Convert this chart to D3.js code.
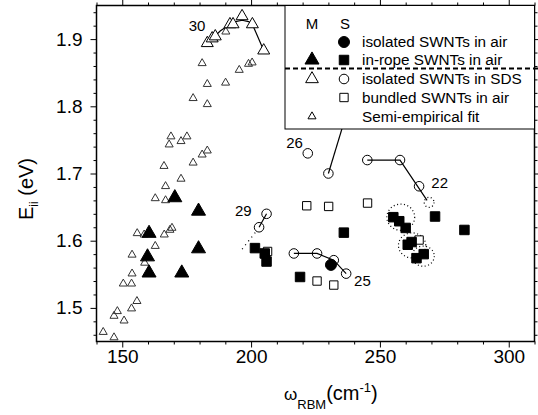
<!DOCTYPE html>
<html>
<head>
<meta charset="utf-8" />
<script src="https://d3js.org/d3.v7.min.js"></script>
<style>
body { margin: 0; background: #fff; }
svg text { font-family: "Liberation Sans", Arial, sans-serif; fill: #000; }
</style>
</head>
<body>
<svg id="chart" width="538" height="415"></svg>
<script>
// values: [omega_RBM (cm-1), E_ii (eV)]
var fitPts = [
    [142.6,1.464],[146.8,1.456],[146.8,1.488],[148.1,1.495],[150.7,1.481],[153.6,1.499],
    [155.7,1.510],[150.4,1.536],[153.6,1.536],[153.8,1.551],[153.8,1.579],[158.7,1.567],
    [155.8,1.611],[158.5,1.609],[162.8,1.592],[166.3,1.609],[168.5,1.616],[169.3,1.619],
    [162.8,1.663],[166.8,1.660],[166.8,1.681],[166.2,1.711],[172.8,1.692],[177.5,1.716],
    [181.0,1.728],[183.0,1.734],[168.2,1.743],[168.9,1.755],[172.8,1.748],[175.1,1.755],
    [177.5,1.812],[183.0,1.803],[183.0,1.833],[181.0,1.864],[190.1,1.835],[195.4,1.854],
    [199.0,1.863],[200.4,1.865],[190.2,1.911]
];
var sdsM = [[183.0,1.894],[184.9,1.901],[186.1,1.904],[191.8,1.922],[193.0,1.922],
    [196.5,1.934],[200.5,1.922],[204.9,1.883]];
var ropeM = [[160.4,1.611],[159.8,1.576],[160.4,1.552],[173.1,1.552],[179.6,1.644],
    [179.6,1.588],[170.4,1.664]];
var airS = [[231.0,1.564]];
var sdsS = [[222.0,1.730],[230.0,1.700],[245.1,1.720],[257.8,1.720],[265.2,1.681],
    [206.0,1.640],[203.1,1.620],[216.6,1.581],[225.6,1.581],[232.1,1.571],[236.9,1.551]];
var bundleS = [[221.6,1.652],[230.1,1.651],[245.2,1.656],[265.2,1.601],[206.4,1.584],
    [225.6,1.540],[232.1,1.534]];
var ropeS = [[201.5,1.589],[205.3,1.581],[206.0,1.569],[219.0,1.546],[236.0,1.612],
    [255.2,1.635],[257.5,1.629],[260.0,1.619],[260.8,1.594],[262.3,1.598],[264.2,1.574],
    [267.0,1.580],[271.4,1.636],[282.8,1.616]];

// family lines
var line30 = [[184.5,1.899],[188,1.912],[191,1.920],[194,1.926],[196.5,1.928],[199,1.926],[200.5,1.922],[204.9,1.883]];
var line26 = [[230.0,1.700],[238.7,1.810]];
var line22 = [[245.1,1.720],[257.8,1.720],[268.3,1.660]];
var line25 = [[216.6,1.581],[225.6,1.581],[232.1,1.571],[236.9,1.551]];
var line29 = [[203.1,1.620],[206.0,1.640]];
var dot29 = [[201.6,1.612],[195.6,1.583]];
// dotted rings: [cx, cy, rx, ry]
var rings = [[258.1,1.635,5.4,0.0195],[262.5,1.593,5.3,0.0187],[266.8,1.577,4.3,0.015],[269.1,1.657,1.9,0.0075]];
var famLabels = ["30","26","29","22","25"];
var famPos = [[179.0,1.9195],[216.9,1.746],[197.0,1.645],[273.2,1.686],[243.2,1.541]];

var xMajor = [150,200,250,300];
var xMinor = d3.range(140,311,10).filter(function(d){ return xMajor.indexOf(d) < 0; });
var yMajor = [1.5,1.6,1.7,1.8,1.9];
var yMinor = [1.46,1.48,1.52,1.54,1.56,1.58,1.62,1.64,1.66,1.68,1.72,1.74,1.76,1.78,1.82,1.84,1.86,1.88,1.92,1.94];

var L = 96.5, R = 534.5, T = 5.5, B = 341.5;
var x = d3.scaleLinear().domain([140,310]).range([L,R]);
var y = d3.scaleLinear().domain([1.45,1.95]).range([B,T]);

var svg = d3.select("#chart");

function axis(gen, tr, vals, size, fmt, pad) {
    var g = svg.append("g")
        .attr("transform", tr)
        .call(gen.tickValues(vals).tickSize(size).tickSizeOuter(0).tickPadding(pad).tickFormat(fmt));
    g.select(".domain").remove();
    g.selectAll("line").attr("stroke", "#000").attr("stroke-width", 1);
    g.selectAll("text").attr("font-size", 19).attr("font-family", "Liberation Sans, Arial, sans-serif").attr("fill", "#000");
    return g;
}
var noLab = function(){ return ""; };
axis(d3.axisBottom(x), "translate(0," + B + ")", xMajor, 6, d3.format("d"), 2);
axis(d3.axisBottom(x), "translate(0," + B + ")", xMinor, 3, noLab, 2);
axis(d3.axisTop(x), "translate(0," + T + ")", xMajor, 6, noLab, 2);
axis(d3.axisTop(x), "translate(0," + T + ")", xMinor, 3, noLab, 2);
axis(d3.axisLeft(y), "translate(" + L + ",0)", yMajor, 6, d3.format(".1f"), 8);
axis(d3.axisLeft(y), "translate(" + L + ",0)", yMinor, 3, noLab, 8);
axis(d3.axisRight(y), "translate(" + R + ",0)", yMajor, 6, noLab, 2);
axis(d3.axisRight(y), "translate(" + R + ",0)", yMinor, 3, noLab, 2);

svg.append("rect")
    .attr("x", L).attr("y", T).attr("width", R - L).attr("height", B - T)
    .attr("fill", "none").attr("stroke", "#000").attr("stroke-width", 1.5);

var line = d3.line().x(function(d){ return x(d[0]); }).y(function(d){ return y(d[1]); });

function sym(type, size) { return d3.symbol().type(type).size(size)(); }

function points(data, type, size, filled, stroke) {
    svg.append("g").selectAll("path")
        .data(data).enter().append("path")
        .attr("transform", function(d){ return "translate(" + x(d[0]) + "," + y(d[1]) + ")"; })
        .attr("d", sym(type, size))
        .attr("fill", filled ? "#000" : "#fff")
        .attr("stroke", stroke || "#000")
        .attr("stroke-width", 1);
}

// small fit triangles
svg.append("g").selectAll("path")
    .data(fitPts).enter().append("path")
    .attr("transform", function(d){ return "translate(" + x(d[0]) + "," + y(d[1]) + ")"; })
    .attr("d", sym(d3.symbolTriangle, 28))
    .attr("fill", "none").attr("stroke", "#333").attr("stroke-width", 1);

// dotted rings
svg.append("g").selectAll("ellipse")
    .data(rings).enter().append("ellipse")
    .attr("cx", function(d){ return x(d[0]); })
    .attr("cy", function(d){ return y(d[1]); })
    .attr("rx", function(d){ return x(d[0] + d[2]) - x(d[0]); })
    .attr("ry", function(d){ return y(d[1] - d[3]) - y(d[1]); })
    .attr("fill", "none").attr("stroke", "#000").attr("stroke-width", 1.2)
    .attr("stroke-dasharray", "1,2.5");

[line30, line26, line22, line25, line29].forEach(function(l) {
    svg.append("path").attr("d", line(l))
        .attr("fill", "none").attr("stroke", "#000").attr("stroke-width", 1.2);
});
svg.append("path").attr("d", line(dot29))
    .attr("fill", "none").attr("stroke", "#000").attr("stroke-width", 1.3)
    .attr("stroke-dasharray", "1,4");

points(bundleS, d3.symbolSquare, 70, false);
points(sdsM, d3.symbolTriangle, 62, false);
points(ropeM, d3.symbolTriangle, 85, true);
points(ropeS, d3.symbolSquare, 90, true);
svg.append("g").selectAll("path")
    .data(sdsS).enter().append("path")
    .attr("transform", function(d){ return "translate(" + x(d[0]) + "," + y(d[1]) + ")"; })
    .attr("d", sym(d3.symbolCircle, 72))
    .attr("fill", "none").attr("stroke", "#000").attr("stroke-width", 1);
points(airS, d3.symbolCircle, 95, true);

// family numbers
svg.append("g").selectAll("text")
    .data(famLabels).enter().append("text")
    .attr("x", function(d, i){ return x(famPos[i][0]); })
    .attr("y", function(d, i){ return y(famPos[i][1]); })
    .attr("dy", "0.35em")
    .attr("text-anchor", "middle")
    .attr("font-size", 15)
    .text(function(d){ return d; });

// legend
var lg = svg.append("g");
lg.append("rect").attr("x", 285).attr("y", T).attr("width", R - 285).attr("height", 129 - T)
    .attr("fill", "#fff").attr("stroke", "#000").attr("stroke-width", 1);
lg.append("line").attr("x1", 285).attr("x2", 538).attr("y1", 68.5).attr("y2", 68.5)
    .attr("stroke", "#000").attr("stroke-width", 2).attr("stroke-dasharray", "5,3");
var mX = 312, sX = 344, tX = 362;
lg.append("text").attr("x", mX).attr("y", 23.5).attr("dy", "0.35em").attr("text-anchor", "middle").attr("font-size", 15).text("M");
lg.append("text").attr("x", sX + 1).attr("y", 23.5).attr("dy", "0.35em").attr("text-anchor", "middle").attr("font-size", 15).text("S");
var legRows = [
    {y: 42, text: "isolated SWNTs in air", m: null, s: [d3.symbolCircle, 95, true]},
    {y: 60, text: "in-rope SWNTs in air", m: [d3.symbolTriangle, 85, true], s: [d3.symbolSquare, 90, true]},
    {y: 79, text: "isolated SWNTs in SDS", m: [d3.symbolTriangle, 70, false], s: [d3.symbolCircle, 72, false]},
    {y: 97.5, text: "bundled SWNTs in air", m: null, s: [d3.symbolSquare, 70, false]},
    {y: 116.5, text: "Semi-empirical fit", m: [d3.symbolTriangle, 28, false], s: null}
];
legRows.forEach(function(r) {
    [[r.m, mX], [r.s, sX]].forEach(function(p) {
        if (!p[0]) return;
        lg.append("path")
            .attr("transform", "translate(" + p[1] + "," + r.y + ")")
            .attr("d", sym(p[0][0], p[0][1]))
            .attr("fill", p[0][2] ? "#000" : "#fff")
            .attr("stroke", "#000").attr("stroke-width", 1);
    });
    lg.append("text").attr("x", tX).attr("y", r.y).attr("dy", "0.35em")
        .attr("font-size", 15.3).text(r.text);
});

// axis titles
var yl = svg.append("text")
    .attr("transform", "translate(33,220) rotate(-90)")
    .attr("font-size", 20);
yl.append("tspan").text("E");
yl.append("tspan").attr("dy", 5).attr("font-size", 12).text("ii");
yl.append("tspan").attr("dy", -5).text(" (eV)");

var xl = svg.append("text")
    .attr("x", 284).attr("y", 400)
    .attr("font-size", 20);
xl.append("tspan").attr("font-size", 17).text("ω");
xl.append("tspan").attr("dy", 9).attr("font-size", 13).text("RBM");
xl.append("tspan").attr("dy", -9).text("(cm");
xl.append("tspan").attr("dy", -8).attr("font-size", 13).text("-1");
xl.append("tspan").attr("dy", 8).text(")");
</script>
</body>
</html>
